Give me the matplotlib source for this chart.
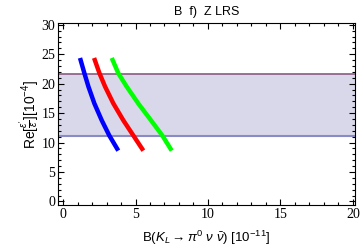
import numpy as np
import matplotlib
matplotlib.use('Agg')
import matplotlib.pyplot as plt
from matplotlib.ticker import MultipleLocator

# curves: (B(KL), Re eps'/eps)
y_curve = [24.36, 21.78, 19.5, 16.64, 13.77, 11.2, 8.63]
x_blue = [1.17, 1.47, 1.75, 2.16, 2.67, 3.19, 3.81]
x_red = [2.14, 2.51, 2.9, 3.47, 4.16, 4.85, 5.54]
x_green = [3.36, 3.81, 4.39, 5.19, 6.07, 6.85, 7.5]

band_lo = 11.1
band_hi = 21.7

plt.rcParams['mathtext.fontset'] = 'custom'
plt.rcParams['mathtext.rm'] = 'Liberation Sans'
plt.rcParams['mathtext.it'] = 'Liberation Sans:italic'

fig = plt.figure(figsize=(3.6, 2.5), dpi=100)
ax = fig.add_axes([58/360, 45/250, 297/360, 182/250])

ax.axhspan(band_lo, band_hi, color='#d8d8ea', lw=0)
ax.axhline(band_hi, color='#8a5a85', lw=1.2)
ax.axhline(band_lo, color='#8a8ac4', lw=1.5)

ax.plot(x_blue, y_curve, color='#0000ff', lw=3.2, solid_capstyle='butt')
ax.plot(x_red, y_curve, color='#ff0000', lw=3.2, solid_capstyle='butt')
ax.plot(x_green, y_curve, color='#00ff00', lw=3.2, solid_capstyle='butt')

ax.set_xlim(-0.35, 20.15)
ax.set_ylim(-0.6, 30.3)
ax.xaxis.set_major_locator(MultipleLocator(5))
ax.xaxis.set_minor_locator(MultipleLocator(1))
ax.yaxis.set_major_locator(MultipleLocator(5))
ax.yaxis.set_minor_locator(MultipleLocator(1))
ax.tick_params(which='both', direction='in', top=True, right=True, width=0.8)
ax.tick_params(which='major', length=4, pad=2)
ax.tick_params(which='minor', length=2)
for lab in ax.get_xticklabels() + ax.get_yticklabels():
    lab.set_family('Liberation Serif')
    lab.set_fontsize(10)

ax.set_title('B  f)  Z LRS', fontsize=9, family='Liberation Sans', pad=6)
ax.set_xlabel(r'B($K_L\rightarrow\pi^0\ \nu\ \bar{\nu}$) [10$^{-11}$]',
              fontsize=9.5, family='Liberation Sans', labelpad=6)
ax.set_ylabel(r"Re[$\frac{\epsilon'}{\epsilon}$][10$^{-4}$]",
              fontsize=10, family='Liberation Sans', labelpad=0)

fig.savefig('out.png', dpi=100)
